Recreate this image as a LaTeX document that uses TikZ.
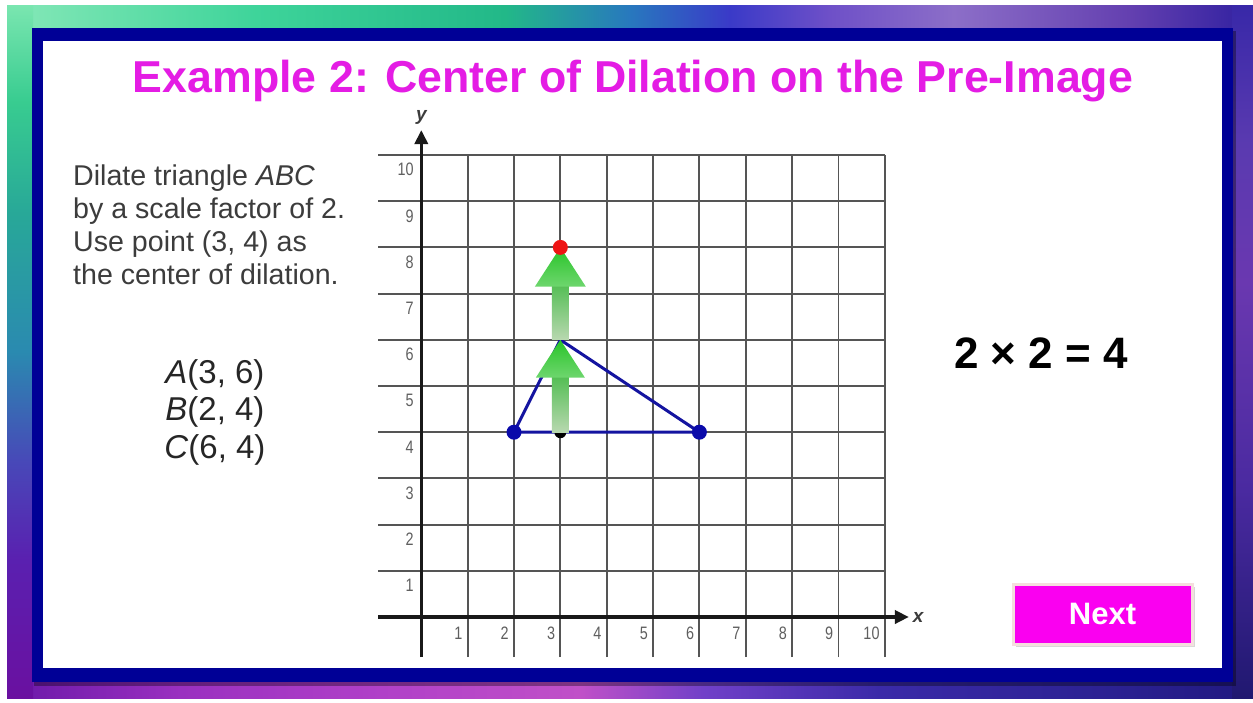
\documentclass[tikz,border=0pt]{standalone}
\usepackage{fontspec}
\setmainfont{Liberation Sans}
\usetikzlibrary{arrows.meta,shadows,shadings}
\definecolor{frameblue}{RGB}{0,0,150}
\definecolor{titlemag}{RGB}{228,28,228}
\definecolor{btnmag}{RGB}{250,0,240}
\definecolor{btnedge}{RGB}{245,222,222}
\definecolor{textgray}{RGB}{60,60,60}
\definecolor{ticklab}{RGB}{95,95,95}
\definecolor{gridgray}{RGB}{85,85,85}
\definecolor{trinavy}{RGB}{20,20,160}
\definecolor{dotnavy}{RGB}{10,10,170}
\definecolor{ptred}{RGB}{238,20,20}
\definecolor{shaftlow}{RGB}{184,216,176}
\definecolor{shafthigh}{RGB}{84,190,84}
\definecolor{headtop}{RGB}{40,196,40}
\definecolor{headlow}{RGB}{110,214,110}
\definecolor{bgUL}{RGB}{80,210,160}
\definecolor{bgUR}{RGB}{80,48,170}
\definecolor{bgLL}{RGB}{100,20,160}
\definecolor{bgLR}{RGB}{40,28,130}
\pgfdeclarehorizontalshading{bgtop}{100bp}{color(0bp)=(rgb,255:red,134;green,232;blue,184);
 color(25bp)=(rgb,255:red,134;green,232;blue,184);
 color(35bp)=(rgb,255:red,62;green,212;blue,154);
 color(45bp)=(rgb,255:red,34;green,184;blue,136);
 color(50bp)=(rgb,255:red,40;green,120;blue,190);
 color(54bp)=(rgb,255:red,58;green,58;blue,200);
 color(58bp)=(rgb,255:red,110;green,80;blue,200);
 color(63bp)=(rgb,255:red,140;green,110;blue,200);
 color(70bp)=(rgb,255:red,100;green,64;blue,176);
 color(75bp)=(rgb,255:red,48;green,32;blue,160);
 color(100bp)=(rgb,255:red,48;green,32;blue,160)}
\pgfdeclarehorizontalshading{bgbot}{100bp}{color(0bp)=(rgb,255:red,106;green,24;blue,168);
 color(25bp)=(rgb,255:red,106;green,24;blue,168);
 color(32bp)=(rgb,255:red,154;green,48;blue,192);
 color(40bp)=(rgb,255:red,176;green,64;blue,200);
 color(48bp)=(rgb,255:red,192;green,80;blue,200);
 color(53bp)=(rgb,255:red,112;green,64;blue,200);
 color(60bp)=(rgb,255:red,58;green,42;blue,168);
 color(70bp)=(rgb,255:red,42;green,32;blue,144);
 color(75bp)=(rgb,255:red,32;green,24;blue,128);
 color(100bp)=(rgb,255:red,32;green,24;blue,128)}
\pgfdeclareverticalshading{bgleft}{100bp}{color(0bp)=(rgb,255:red,106;green,16;blue,160);
 color(25bp)=(rgb,255:red,106;green,16;blue,160);
 color(35bp)=(rgb,255:red,90;green,32;blue,176);
 color(42bp)=(rgb,255:red,72;green,72;blue,184);
 color(50bp)=(rgb,255:red,42;green,138;blue,176);
 color(60bp)=(rgb,255:red,40;green,168;blue,152);
 color(68bp)=(rgb,255:red,56;green,204;blue,144);
 color(75bp)=(rgb,255:red,122;green,230;blue,176);
 color(100bp)=(rgb,255:red,122;green,230;blue,176)}
\pgfdeclareverticalshading{bgright}{100bp}{color(0bp)=(rgb,255:red,32;green,24;blue,112);
 color(25bp)=(rgb,255:red,32;green,24;blue,112);
 color(40bp)=(rgb,255:red,74;green,42;blue,160);
 color(55bp)=(rgb,255:red,106;green,56;blue,176);
 color(65bp)=(rgb,255:red,90;green,58;blue,176);
 color(75bp)=(rgb,255:red,56;green,40;blue,168);
 color(100bp)=(rgb,255:red,56;green,40;blue,168)}
\tikzset{
  titletext/.style={font=\fontsize{44.7}{50}\selectfont\bfseries, text=titlemag, anchor=base, inner sep=0pt},
  bodytext/.style={font=\fontsize{28.6}{33}\selectfont, text=textgray, anchor=base west, inner sep=0pt},
  pointtext/.style={font=\fontsize{33}{38}\selectfont, text=black!85, anchor=base, inner sep=0pt},
  eqtext/.style={font=\fontsize{44}{48}\selectfont\bfseries, text=black, anchor=base, inner sep=0pt},
  nextbtn/.style={fill=btnmag, draw=btnedge, line width=3pt, minimum width=179pt, minimum height=60pt,
     text=white, font=\fontsize{31}{34}\selectfont\bfseries, drop shadow={shadow xshift=3pt, shadow yshift=-3pt, opacity=.3}},
  gridline/.style={draw=gridgray, line width=1.9pt},
  axisline/.style={draw=black!90, line width=3.5pt, -{Triangle[length=14pt,width=13pt]}},
  ticktext/.style={font=\fontsize{18}{18}\selectfont, text=ticklab, inner sep=0pt, anchor=east},
  axislab/.style={font=\fontsize{19}{19}\selectfont\bfseries\itshape, text=textgray, inner sep=0pt},
  triline/.style={draw=trinavy, line width=3pt, line join=round},
}
\begin{document}
\begin{tikzpicture}[x=1pt,y=-1pt]
\useasboundingbox (0,0) rectangle (1253,702);
\fill[white] (0,0) rectangle (1253,702);
% background
\shade[upper left=bgUL, upper right=bgUR, lower left=bgLL, lower right=bgLR]
  (7,5) rectangle (1253,698);
\shade[shading=bgtop] (7,5) rectangle (1253,30);
\shade[shading=bgbot] (7,680) rectangle (1253,698);
\shade[shading=bgleft] (7,5) rectangle (33,698);
\shade[shading=bgright] (1232,5) rectangle (1253,698);
% frame
\fill[black, opacity=.35] (34,31) rectangle (1236,686);
\fill[frameblue] (32,28) rectangle (1233,682);
\fill[white] (43,41) rectangle (1222,668);
% title and texts
\node[titletext] (title) at (633,92) {Example 2: Center of Dilation on the Pre-Image};
\node[bodytext] (l1) at (73,185) {Dilate triangle \textit{ABC}};
\node[bodytext] (l2) at (73,218) {by a scale factor of 2.};
\node[bodytext] (l3) at (73,251) {Use point (3, 4) as};
\node[bodytext] (l4) at (73,284) {the center of dilation.};
\node[pointtext] (pa) at (215,383) {\textit{A}(3, 6)};
\node[pointtext] (pb) at (215,420) {\textit{B}(2, 4)};
\node[pointtext] (pc) at (215,458) {\textit{C}(6, 4)};
\node[eqtext] (eq) at (1041,368) {2 × 2 = 4};
\node[nextbtn] (next) at (1102.5,614) {Next};
% coordinate plane
\begin{scope}[shift={(421.3,617)}, x=46.35pt, y=46.2pt]
  \foreach \i in {1,...,10} {
    \draw[gridline] (\i,-0.87) -- (\i,10);
    \draw[gridline] (-0.93,\i) -- (10,\i);
    \node[ticktext] (xt\i) at (\i-0.11,-0.36) {\scalebox{0.8}[1]{\i}};
    \node[ticktext] (yt\i) at (-0.16,\i-0.32) {\scalebox{0.8}[1]{\i}};
  }
  \draw[axisline] (-0.93,0) -- (10.52,0);
  \draw[axisline] (0,-0.87) -- (0,10.54);
  \node[axislab] (xl) at (10.72,0) {x};
  \node[axislab] (yl) at (0,10.82) {y};
  \coordinate (A) at (3,6);
  \coordinate (B) at (2,4);
  \coordinate (C) at (6,4);
  \coordinate (O) at (3,4);
  \coordinate (Ap) at (3,8);
  \draw[triline] (A) -- (B) -- (C) -- cycle;
  \fill[black] (O) circle[radius=6pt];
  % dilation arrows
  \shade[bottom color=shaftlow, top color=shafthigh] (2.815,4) rectangle (3.185,5.2);
  \shade[bottom color=headlow, top color=headtop] (2.47,5.18) -- (3.53,5.18) -- (A) -- cycle;
  \shade[bottom color=shaftlow, top color=shafthigh] (2.815,6) rectangle (3.185,7.2);
  \shade[bottom color=headlow, top color=headtop] (2.45,7.15) -- (3.55,7.15) -- (Ap) -- cycle;
  \fill[dotnavy] (B) circle[radius=7.5pt];
  \fill[dotnavy] (C) circle[radius=7.5pt];
  \fill[ptred] (Ap) circle[radius=7.5pt];
\end{scope}
\end{tikzpicture}
\end{document}
